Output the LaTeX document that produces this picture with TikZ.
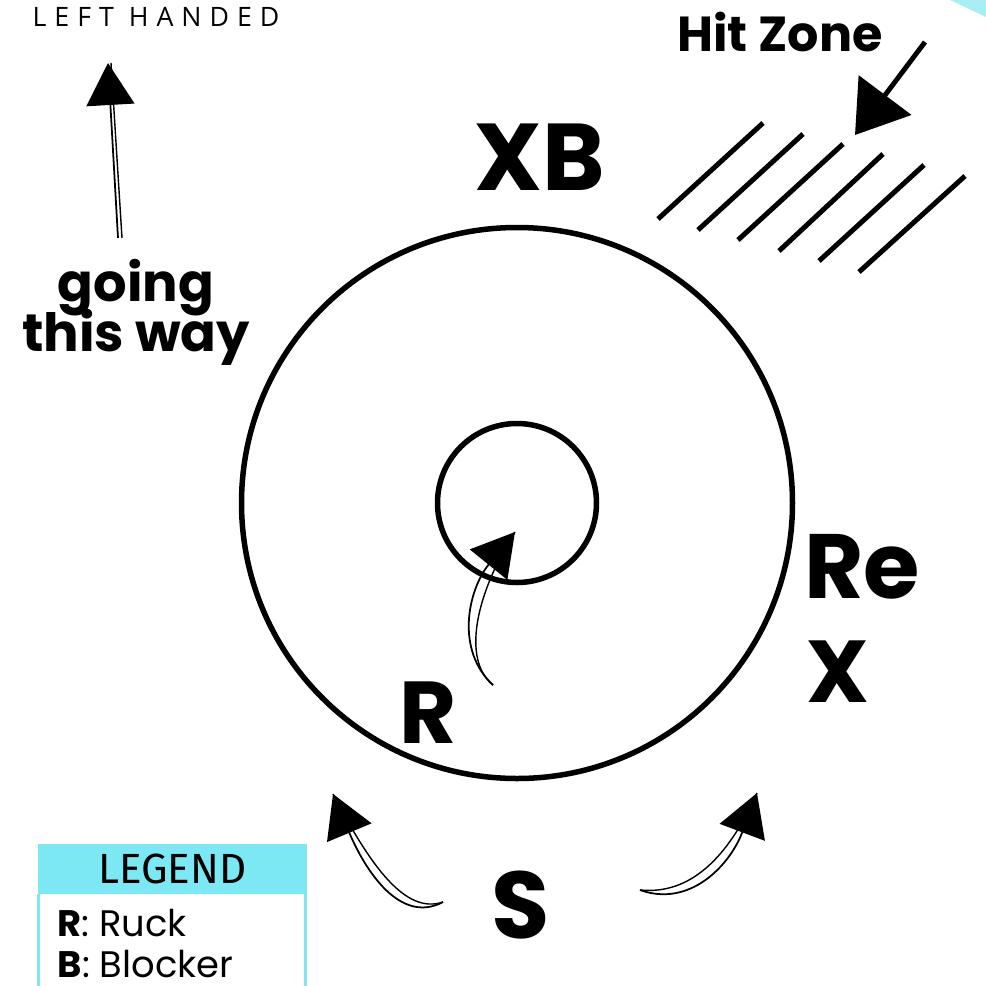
\documentclass[tikz,border=0pt]{standalone}
\usepackage{fontspec}
\setmainfont{Poppins}
\newfontfamily\handfont{Poppins}
\newfontfamily\spacedfont[LetterSpace=30]{Open Sans}
\newfontfamily\legendfont{Fira Sans}
\usetikzlibrary{arrows.meta,positioning}
\definecolor{LegendCyan}{HTML}{7BE8F3}
\definecolor{CornerCyan}{HTML}{A8EEF5}

\begin{document}
\begin{tikzpicture}[x=0.1mm,y=-0.1mm,
hand/.style={font=\handfont\bfseries\fontsize{#1}{#1}\selectfont,inner sep=0pt},
ring/.style={circle,draw,line width=0.55mm,inner sep=0pt},
hatch/.style={line width=0.5mm},
sk/.style={line width=0.5pt,-{Triangle[length=4.2mm,width=4.8mm]}},
skb/.style={line width=0.4pt}]
\useasboundingbox (0,0) rectangle (986,986);
\fill[CornerCyan] (950,0) -- (986,0) -- (986,17) -- cycle;

% header texts
\node[font=\spacedfont\fontsize{7.6}{8}\selectfont,inner sep=0pt] (hand) at (156,17) {LEFT HANDED};
\node[hand=15,align=center] (way) at (136,312) {going\\[-1mm]this way};
\node[hand=14] (hitlbl) at (780,32) {Hit Zone};

% direction of play
\coordinate (upTail) at (118,238);
\coordinate (upTip) at (108,63);
\draw[sk] (upTail) -- (upTip);
\draw[skb] ([xshift=0.4mm]upTail) -- ([xshift=0.3mm]upTip);

% hit zone
\coordinate (hitTail) at (925,42);
\coordinate (hitTip) at (855,135);
\draw[line width=1.4pt,-{Triangle[length=5mm,width=6.5mm]}] (hitTail) -- (hitTip);
\draw[hatch] (658,219) -- (763,123);
\draw[hatch] (698,230) -- (803,134);
\draw[hatch] (738,240) -- (843,144);
\draw[hatch] (779,251) -- (883,154);
\draw[hatch] (819,261) -- (924,165);
\draw[hatch] (859,272) -- (965,176);

% track
\node[ring,minimum size=55.1mm] (outer) at (517,503) {};
\node[ring,minimum size=15.9mm] (inner) at (517,503) {};

% positions
\node[hand=27] (xb) at (540,157) {XB};
\node[hand=26] (re) at (862,567) {Re};
\node[hand=25] (x) at (838,672) {X};
\node[hand=25] (r) at (428,713) {R};
\node[hand=27] (s) at (521,905) {S};

% ruck arrow
\coordinate (rTail) at (493,685);
\coordinate (rTip) at (515,532);
\draw[sk] (rTail) .. controls (455,650) and (468,590) .. (rTip);
\draw[skb] (rTail) .. controls (462,660) and (475,595) .. (rTip);

% star arrows
\coordinate (sLTail) at (443,902);
\coordinate (sLTip) at (333,794);
\draw[sk] (sLTail) .. controls (400,925) and (365,870) .. (sLTip);
\draw[skb] (sLTail) .. controls (405,915) and (370,865) .. (sLTip);
\coordinate (sRTail) at (640,890);
\coordinate (sRTip) at (757,793);
\draw[sk] (sRTail) .. controls (690,908) and (730,865) .. (sRTip);
\draw[skb] (sRTail) .. controls (690,895) and (728,858) .. (sRTip);

% legend
\node[fill=LegendCyan,minimum width=26.9mm,minimum height=5mm,anchor=north west,inner sep=0pt,
  font=\legendfont\fontsize{12}{12}\selectfont] (legendHead) at (37,843) {LEGEND};
\draw[LegendCyan,line width=0.3mm] (legendHead.south west) ++(1.5,0) -- ++(0,100);
\draw[LegendCyan,line width=0.3mm] (legendHead.south east) ++(-1.5,0) -- ++(0,100);
\node[anchor=west,inner sep=0pt,font=\fontsize{10.5}{12}\selectfont] (legendR) at (57,923) {\textbf{R}: Ruck};
\node[anchor=west,inner sep=0pt,font=\fontsize{10.5}{12}\selectfont] (legendB) at (57,964) {\textbf{B}: Blocker};
\end{tikzpicture}
\end{document}
